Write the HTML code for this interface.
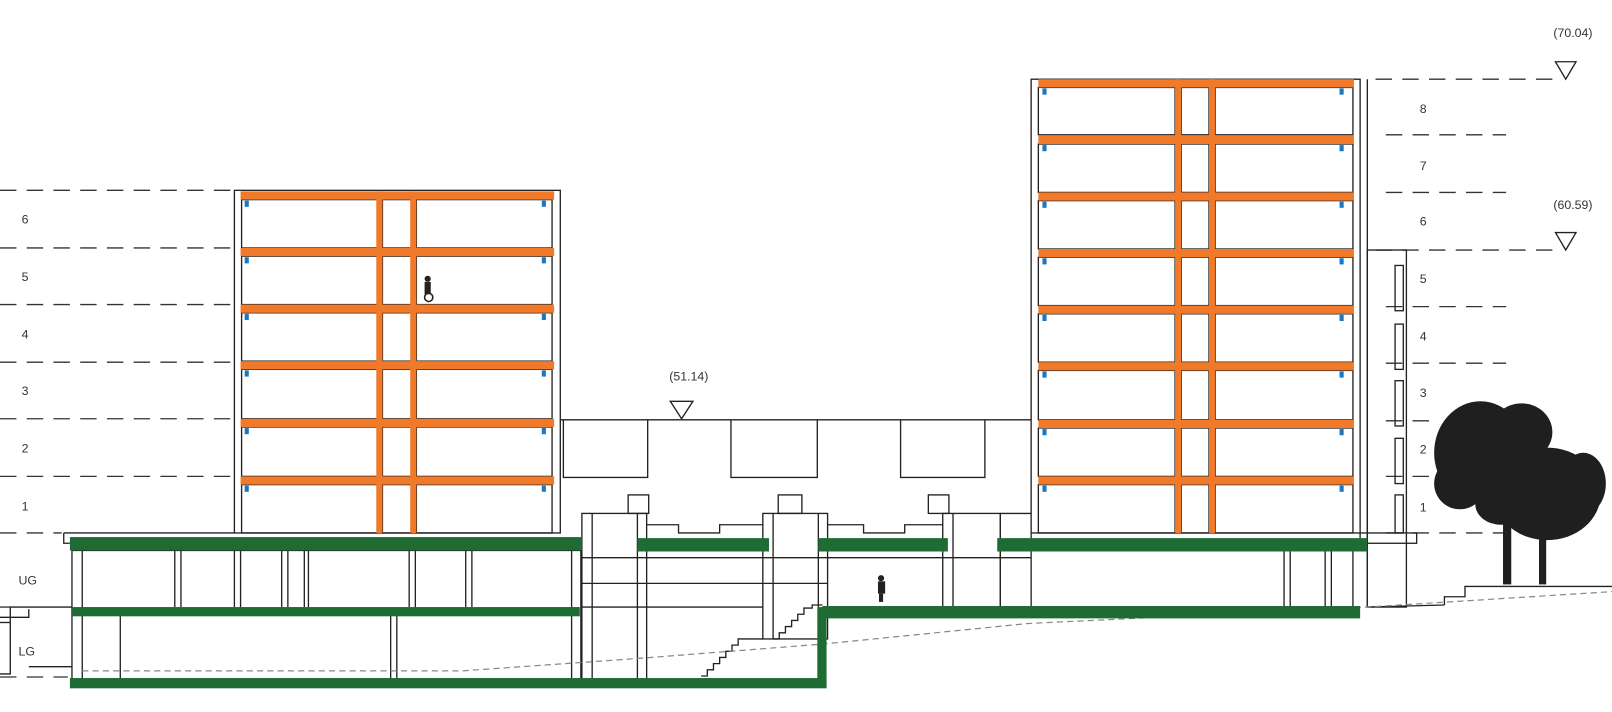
<!DOCTYPE html>
<html><head><meta charset="utf-8"><style>
html,body{margin:0;padding:0;background:#fff;}
svg{display:block;}
text{font-family:"Liberation Sans",sans-serif;font-size:12px;fill:#333;}
</style></head><body>
<svg width="1612" height="712" viewBox="0 0 1568 692" preserveAspectRatio="none" xmlns="http://www.w3.org/2000/svg">
<rect width="1568" height="692" fill="#fff"/>
<g stroke="#222" stroke-width="1.3" fill="none">
<!-- left dashed level lines -->
<g stroke-dasharray="16,10" stroke="#333">
<line x1="0" y1="185" x2="226" y2="185"/><line x1="0" y1="241" x2="226" y2="241"/>
<line x1="0" y1="296" x2="226" y2="296"/><line x1="0" y1="352" x2="226" y2="352"/>
<line x1="0" y1="407" x2="226" y2="407"/><line x1="0" y1="463" x2="226" y2="463"/>
<line x1="0" y1="518" x2="60" y2="518"/><line x1="0" y1="590" x2="10" y2="590"/>
<line x1="0" y1="658" x2="66" y2="658"/>
<!-- right -->
<line x1="1338" y1="77" x2="1510" y2="77"/><line x1="1348" y1="131" x2="1465" y2="131"/>
<line x1="1348" y1="187" x2="1465" y2="187"/><line x1="1338" y1="243" x2="1510" y2="243"/>
<line x1="1348" y1="298" x2="1465" y2="298"/><line x1="1348" y1="353" x2="1465" y2="353"/>
<line x1="1348" y1="409" x2="1395" y2="409"/><line x1="1348" y1="463" x2="1395" y2="463"/>
<line x1="1348" y1="518" x2="1500" y2="518"/>
</g>
<!-- left building -->
<rect x="228" y="185" width="317" height="333"/>
<!-- rooms left -->
<g>
<rect x="235" y="194" width="132" height="47"/><rect x="405" y="194" width="132" height="47"/><rect x="372" y="194" width="28" height="47"/>
<rect x="235" y="249" width="132" height="47"/><rect x="405" y="249" width="132" height="47"/><rect x="372" y="249" width="28" height="47"/>
<rect x="235" y="304" width="132" height="47"/><rect x="405" y="304" width="132" height="47"/><rect x="372" y="304" width="28" height="47"/>
<rect x="235" y="359" width="132" height="48"/><rect x="405" y="359" width="132" height="48"/><rect x="372" y="359" width="28" height="48"/>
<rect x="235" y="415" width="132" height="48"/><rect x="405" y="415" width="132" height="48"/><rect x="372" y="415" width="28" height="48"/>
<rect x="235" y="471" width="132" height="47"/><rect x="405" y="471" width="132" height="47"/><rect x="372" y="471" width="28" height="47"/>
</g>
<!-- right building -->
<rect x="1003" y="77" width="320" height="441"/>
<g>
<rect x="1010" y="85" width="133" height="46"/><rect x="1182" y="85" width="134" height="46"/><rect x="1149" y="85" width="27" height="46"/>
<rect x="1010" y="140" width="133" height="47"/><rect x="1182" y="140" width="134" height="47"/><rect x="1149" y="140" width="27" height="47"/>
<rect x="1010" y="195" width="133" height="47"/><rect x="1182" y="195" width="134" height="47"/><rect x="1149" y="195" width="27" height="47"/>
<rect x="1010" y="250" width="133" height="47"/><rect x="1182" y="250" width="134" height="47"/><rect x="1149" y="250" width="27" height="47"/>
<rect x="1010" y="305" width="133" height="47"/><rect x="1182" y="305" width="134" height="47"/><rect x="1149" y="305" width="27" height="47"/>
<rect x="1010" y="360" width="133" height="48"/><rect x="1182" y="360" width="134" height="48"/><rect x="1149" y="360" width="27" height="48"/>
<rect x="1010" y="416" width="133" height="47"/><rect x="1182" y="416" width="134" height="47"/><rect x="1149" y="416" width="27" height="47"/>
<rect x="1010" y="471" width="133" height="47"/><rect x="1182" y="471" width="134" height="47"/><rect x="1149" y="471" width="27" height="47"/>
</g>
<line x1="1330" y1="77" x2="1330" y2="590"/>
<rect x="1330" y="243" width="38" height="347"/>
<rect x="1357" y="258" width="8" height="44"/><rect x="1357" y="315" width="8" height="44"/>
<rect x="1357" y="370" width="8" height="44"/><rect x="1357" y="426" width="8" height="44"/><rect x="1357" y="481" width="8" height="37"/>
<rect x="1323" y="518" width="55" height="10"/>
<!-- middle block -->
<line x1="545" y1="408" x2="1003" y2="408"/>
<polyline points="548,408 548,464 630,464 630,408"/>
<polyline points="711,408 711,464 795,464 795,408"/>
<polyline points="876,408 876,464 958,464 958,408"/>
<!-- podium outline -->
<polyline points="62,518 62,528 68,528"/>
<line x1="62" y1="518" x2="228" y2="518"/>
<rect x="70" y="535" width="495" height="125"/>
<line x1="80" y1="535" x2="80" y2="660"/>
<g>
<line x1="170" y1="535" x2="170" y2="590"/><line x1="176" y1="535" x2="176" y2="590"/>
<line x1="228" y1="535" x2="228" y2="590"/><line x1="234" y1="535" x2="234" y2="590"/>
<line x1="274" y1="535" x2="274" y2="590"/><line x1="280" y1="535" x2="280" y2="590"/>
<line x1="296" y1="535" x2="296" y2="590"/><line x1="300" y1="535" x2="300" y2="590"/>
<line x1="398" y1="535" x2="398" y2="590"/><line x1="404" y1="535" x2="404" y2="590"/>
<line x1="453" y1="535" x2="453" y2="590"/><line x1="459" y1="535" x2="459" y2="590"/>
<line x1="117" y1="598" x2="117" y2="660"/><line x1="380" y1="598" x2="380" y2="660"/><line x1="386" y1="598" x2="386" y2="660"/>
<line x1="556" y1="535" x2="556" y2="660"/>
</g>
<polyline points="0,600 10,600 10,590 70,590"/><polyline points="0,655 10,655 10,600 28,600 28,592"/>
<polyline points="10,605 0,605"/><polyline points="28,648 70,648"/>
<!-- towers -->
<rect x="566" y="499" width="63" height="161"/><line x1="576" y1="499" x2="576" y2="660"/><line x1="620" y1="499" x2="620" y2="660"/>
<rect x="611" y="481" width="20" height="18"/>
<rect x="742" y="499" width="63" height="122"/><line x1="752" y1="499" x2="752" y2="621"/><line x1="796" y1="499" x2="796" y2="590"/>
<rect x="757" y="481" width="23" height="18"/>
<rect x="917" y="499" width="56" height="91"/><line x1="927" y1="499" x2="927" y2="590"/>
<rect x="903" y="481" width="20" height="18"/>
<polyline points="629,510 660,510 660,518 700,518 700,510 742,510"/>
<polyline points="805,510 840,510 840,518 880,518 880,510 917,510"/>
<line x1="973" y1="499" x2="1003" y2="499"/>
<line x1="566" y1="542" x2="1003" y2="542"/>
<line x1="566" y1="567" x2="805" y2="567"/>
<line x1="566" y1="590" x2="742" y2="590"/>
<line x1="1003" y1="518" x2="1003" y2="590"/><line x1="973" y1="499" x2="973" y2="590"/>
<!-- stairs -->
<polyline points="682,657 688,657 688,651 694,651 694,645 700,645 700,639 706,639 706,633 712,633 712,627 718,627 718,621 742,621"/>
<polyline points="752,621 758,621 758,615 764,615 764,609 770,609 770,603 776,603 776,597 782,597 782,591 790,591 790,588 800,588"/>
<!-- columns under right building -->
<line x1="1249" y1="535" x2="1249" y2="590"/><line x1="1255" y1="535" x2="1255" y2="590"/>
<line x1="1289" y1="535" x2="1289" y2="590"/><line x1="1295" y1="535" x2="1295" y2="590"/>
<line x1="1316" y1="535" x2="1316" y2="590"/>
<line x1="1330" y1="590" x2="1405" y2="588"/>
<polyline points="1405,588 1405,580 1425,580 1425,570 1568,570"/>
<!-- markers -->
<polygon points="652,390 674,390 663,407"/>
<polygon points="1513,60 1533,60 1523,77"/>
<polygon points="1513,226 1533,226 1523,243"/>
</g>
<!-- ground dashed grey -->
<polyline points="80,652 450,652 620,640 800,626 1000,606 1330,590 1568,575" fill="none" stroke="#888" stroke-width="1.2" stroke-dasharray="6,4"/>
<!-- orange -->
<g fill="#f07a2a">
<rect x="234" y="186" width="305" height="8"/><rect x="234" y="241" width="305" height="8"/>
<rect x="234" y="296" width="305" height="8"/><rect x="234" y="351" width="305" height="8"/>
<rect x="234" y="407" width="305" height="8"/><rect x="234" y="463" width="305" height="8"/>
<rect x="366" y="186" width="6" height="332"/><rect x="399" y="186" width="6" height="332"/>
<rect x="1010" y="77" width="307" height="8"/><rect x="1010" y="132" width="307" height="8"/>
<rect x="1010" y="187" width="307" height="8"/><rect x="1010" y="242" width="307" height="8"/>
<rect x="1010" y="297" width="307" height="8"/><rect x="1010" y="352" width="307" height="8"/>
<rect x="1010" y="408" width="307" height="8"/><rect x="1010" y="463" width="307" height="8"/>
<rect x="1143" y="77" width="6" height="441"/><rect x="1176" y="77" width="6" height="441"/>
</g>
<!-- blue marks -->
<g fill="#1a78c2">
<rect x="238" y="195" width="4" height="6"/><rect x="527" y="195" width="4" height="6"/>
<rect x="238" y="250" width="4" height="6"/><rect x="527" y="250" width="4" height="6"/>
<rect x="238" y="305" width="4" height="6"/><rect x="527" y="305" width="4" height="6"/>
<rect x="238" y="360" width="4" height="6"/><rect x="527" y="360" width="4" height="6"/>
<rect x="238" y="416" width="4" height="6"/><rect x="527" y="416" width="4" height="6"/>
<rect x="238" y="472" width="4" height="6"/><rect x="527" y="472" width="4" height="6"/>
<rect x="1014" y="86" width="4" height="6"/><rect x="1303" y="86" width="4" height="6"/>
<rect x="1014" y="141" width="4" height="6"/><rect x="1303" y="141" width="4" height="6"/>
<rect x="1014" y="196" width="4" height="6"/><rect x="1303" y="196" width="4" height="6"/>
<rect x="1014" y="251" width="4" height="6"/><rect x="1303" y="251" width="4" height="6"/>
<rect x="1014" y="306" width="4" height="6"/><rect x="1303" y="306" width="4" height="6"/>
<rect x="1014" y="361" width="4" height="6"/><rect x="1303" y="361" width="4" height="6"/>
<rect x="1014" y="417" width="4" height="6"/><rect x="1303" y="417" width="4" height="6"/>
<rect x="1014" y="472" width="4" height="6"/><rect x="1303" y="472" width="4" height="6"/>
</g>
<!-- green -->
<g fill="#1e6b34">
<rect x="68" y="522" width="498" height="13"/>
<rect x="70" y="590" width="494" height="9"/>
<rect x="68" y="659" width="736" height="10"/>
<rect x="795" y="590" width="9" height="78"/>
<rect x="800" y="589" width="523" height="12"/>
<rect x="620" y="523" width="128" height="13"/>
<rect x="796" y="523" width="126" height="13"/>
<rect x="970" y="523" width="360" height="13"/>
</g>
<!-- people -->
<g fill="#222">
<circle cx="416" cy="271" r="3"/><rect x="413" y="274" width="6" height="12"/><circle cx="417" cy="289" r="4" fill="none" stroke="#222" stroke-width="1.5"/>
<circle cx="857" cy="562" r="3"/><rect x="854" y="565" width="7" height="12"/><rect x="855" y="577" width="4" height="8"/>
</g>
<!-- tree -->
<g fill="#1f1f1f">
<ellipse cx="1440" cy="440" rx="45" ry="50"/><ellipse cx="1420" cy="470" rx="25" ry="25"/>
<ellipse cx="1480" cy="420" rx="30" ry="28"/><ellipse cx="1505" cy="480" rx="52" ry="45"/>
<ellipse cx="1540" cy="470" rx="22" ry="30"/><ellipse cx="1460" cy="490" rx="25" ry="20"/>
<rect x="1462" y="480" width="8" height="88"/><rect x="1497" y="500" width="7" height="68"/>
</g>
<!-- labels -->
<g>
<text x="21" y="217">6</text><text x="21" y="273">5</text><text x="21" y="329">4</text>
<text x="21" y="384">3</text><text x="21" y="440">2</text><text x="21" y="496">1</text>
<text x="18" y="568">UG</text><text x="18" y="637">LG</text>
<text x="1381" y="110">8</text><text x="1381" y="165">7</text><text x="1381" y="219">6</text>
<text x="1381" y="275">5</text><text x="1381" y="331">4</text><text x="1381" y="386">3</text>
<text x="1381" y="441">2</text><text x="1381" y="497">1</text>
<text x="1511" y="36">(70.04)</text><text x="1511" y="203">(60.59)</text><text x="651" y="370">(51.14)</text>
</g>
</svg>
</body></html>
